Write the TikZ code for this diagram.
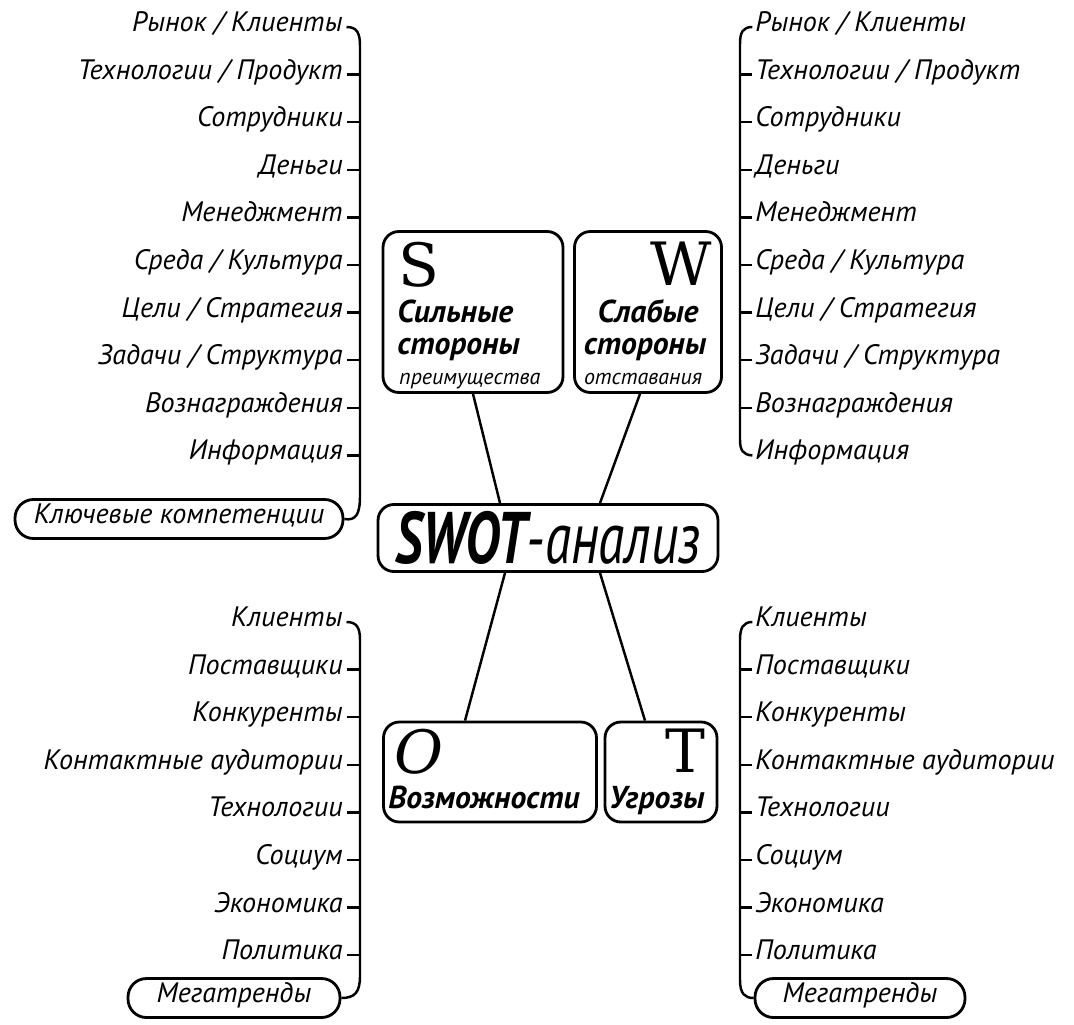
\documentclass[tikz,border=0pt]{standalone}
\usepackage{fontspec}
\setsansfont{PT Sans}
\newfontfamily\letterfont{DejaVu Serif}
\tikzset{
  item/.style={font=\sffamily\itshape\fontsize{16}{18}\selectfont, inner sep=0pt, text height=1.6ex, text depth=0.4ex},
  litem/.style={item, anchor=east},
  ritem/.style={item, anchor=west},
  quad/.style={draw, line width=1.6pt, rounded corners=9pt, inner sep=0pt},
  pill/.style={item, draw, line width=1.6pt, rounded corners=10.5pt, minimum height=0.78cm},
  letter/.style={font=\letterfont\fontsize{34}{34}\selectfont, inner sep=0pt, text depth=0pt},
  head/.style={font=\sffamily\bfseries\itshape\fontsize{18}{19}\selectfont, inner sep=0pt, text height=1.45ex, text depth=0.2ex},
  note/.style={font=\sffamily\itshape\fontsize{12.5}{14}\selectfont, inner sep=0pt, text height=1.5ex, text depth=0.3ex},
  wire/.style={line width=1.4pt}
}
\begin{document}
\begin{tikzpicture}[x=0.02cm, y=-0.02cm]
\useasboundingbox (0,0) rectangle (1074,1024);
\coordinate (barL) at (360,0);
\coordinate (barR) at (740,0);

% four boxes and the centre
\node[quad, minimum width=3.6cm, minimum height=3.22cm] (S) at (473,312) {};
\node[quad, minimum width=2.94cm, minimum height=3.22cm] (W) at (648,312) {};
\node[quad, minimum width=6.8cm, minimum height=1.34cm, font=\sffamily\itshape\fontsize{32}{32}\selectfont] (swot) at (548,538) {\scalebox{0.95}[1.3]{\textbf{SWOT}-анализ}};
\node[quad, minimum width=4.26cm, minimum height=2cm] (O) at (490,772) {};
\node[quad, minimum width=2.24cm, minimum height=2cm] (T) at (661,772) {};

\node[letter, anchor=north west] (s0) at (398,242) {S};
\node[head, anchor=west] (s1) at (397,318) {Сильные};
\node[head, anchor=west] (s2) at (397,350) {стороны};
\node[note, anchor=west] (s3) at (399,380) {преимущества};
\node[letter, anchor=north east] (w0) at (712,242) {W};
\node[head] (w1) at (648,318) {Слабые};
\node[head] (w2) at (645,350) {стороны};
\node[note] (w3) at (643,380) {отставания};
\node[letter, anchor=north west, font=\letterfont\itshape\fontsize{34}{34}\selectfont] (o0) at (394,729) {O};
\node[head, anchor=west] (o1) at (388,804) {Возможности};
\node[letter, anchor=north east] (t0) at (706,729) {T};
\node[head, anchor=west] (t1) at (609,804) {Угрозы};

\draw[wire] (S.south) -- ([xshift=-0.96cm]swot.north);
\draw[wire] ([xshift=-0.16cm]W.south) -- ([xshift=1.04cm]swot.north);
\draw[wire] ([xshift=-0.86cm]swot.south) -- ([xshift=-0.5cm]O.north);
\draw[wire] ([xshift=1.04cm]swot.south) -- ([xshift=-0.32cm]T.north);

% upper lists
\foreach \t [count=\i, evaluate=\i as \y using 27+(\i-1)*47.6] in
  {Рынок / Клиенты, Технологии / Продукт, Сотрудники, Деньги, Менеджмент,
   Среда / Культура, Цели / Стратегия, Задачи / Структура, Вознаграждения, Информация}
{
  \node[litem] (tl\i) at (343,\y) {\t};
  \node[ritem] (tr\i) at (755,\y) {\t};
}
\foreach \i in {2,...,10} \draw[wire] ([xshift=2pt]tl\i.east) -- (tl\i.east -| barL);
\foreach \i in {2,...,9} \draw[wire] ([xshift=-1.5pt]tr\i.west) -- (tr\i.west -| barR);

\node[pill, minimum width=6.56cm] (kc) at (179,519) {Ключевые компетенции};
\draw[wire] ([xshift=2pt]tl1.east) .. controls (357,27) and (360,33) .. (360,46)
  -- (360,496) .. controls (360,514) and (356,521) .. (kc.east);
\draw[wire] ([xshift=-1.5pt]tr1.west) .. controls (743,27) and (740,32) .. (740,44)
  -- (740,440) .. controls (740,450) and (743,455) .. ([xshift=-1.5pt]tr10.west);

% lower lists
\foreach \t [count=\i, evaluate=\i as \y using 622+(\i-1)*47.6] in
  {Клиенты, Поставщики, Конкуренты, Контактные аудитории, Технологии,
   Социум, Экономика, Политика}
{
  \node[litem] (bl\i) at (343,\y) {\t};
  \node[ritem] (br\i) at (755,\y) {\t};
}
\foreach \i in {2,...,8} {
  \draw[wire] ([xshift=2pt]bl\i.east) -- (bl\i.east -| barL);
  \draw[wire] ([xshift=-1.5pt]br\i.west) -- (br\i.west -| barR);
}

\node[pill, minimum width=4.24cm] (mtl) at (234,998) {Мегатренды};
\node[pill, minimum width=4.2cm] (mtr) at (860,998) {Мегатренды};
\draw[wire] ([xshift=2pt]bl1.east) .. controls (357,622) and (360,628) .. (360,640)
  -- (360,976) .. controls (360,992) and (355,998) .. (mtl.east);
\draw[wire] ([xshift=-1.5pt]br1.west) .. controls (743,622) and (740,628) .. (740,640)
  -- (740,980) .. controls (740,994) and (745,998) .. (mtr.west);
\end{tikzpicture}
\end{document}
